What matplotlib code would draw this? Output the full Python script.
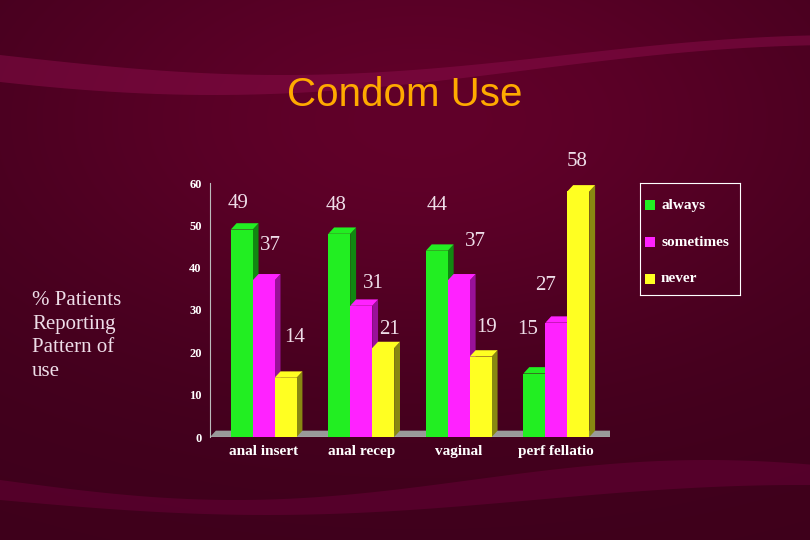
import numpy as np
import matplotlib.pyplot as plt
from matplotlib.patches import Polygon, Rectangle

categories = ["anal insert", "anal recep", "vaginal", "perf fellatio"]
always = [49, 48, 44, 15]
sometimes = [37, 31, 37, 27]
never = [14, 21, 19, 58]
series_names = ["always", "sometimes", "never"]
colors = ["#22ee22", "#ff22ff", "#ffff22"]
sides = ["#118811", "#991199", "#888811"]

W, H = 810, 540
fig = plt.figure(figsize=(8.1, 5.4), dpi=100)
fig.patch.set_facecolor("#3a0020")

# background with a few soft swirls
bg = fig.add_axes([0, 0, 1, 1], zorder=-10)
bg.set_xlim(0, W)
bg.set_ylim(H, 0)
bg.axis("off")
yy, xx = np.mgrid[0:H, 0:W]
grad = 0.35 + 0.25 * np.exp(-((xx - 420) ** 2 / 2e5 + (yy - 120) ** 2 / 6e4))
img = np.zeros((H, W, 3))
img[..., 0] = 0.55 * grad + 0.05
img[..., 1] = 0.0
img[..., 2] = 0.22 * grad + 0.03
bg.imshow(img, extent=(0, W, H, 0), aspect="auto")
t = np.linspace(0, W, 200)
bg.fill_between(t, 55 + 20 * np.sin(t / 180), 70 + 25 * np.sin(t / 200 + 0.5), color="#8a0d4a", alpha=0.5, lw=0)
bg.fill_between(t, 480 + 20 * np.sin(t / 150), 500 + 15 * np.sin(t / 170), color="#6a0038", alpha=0.5, lw=0)

fig.text(405 / W, 1 - 95 / H, "Condom Use", color="#ffaa00", fontsize=29,
         ha="center", va="center", family="Liberation Sans")
fig.text(32 / W, 1 - 336 / H, "% Patients\nReporting\nPattern of\nuse", color="#eedde8",
         fontsize=15, ha="left", va="center", family="Liberation Serif", linespacing=1.35)

ax = fig.add_axes([210 / W, (H - 437) / H, 400 / W, 254 / H])
ax.set_facecolor("none")
ax.set_xlim(-0.55, 3.55)
ax.set_ylim(0, 60)
ax.set_yticks(range(0, 61, 10))
ax.set_xticks(range(len(categories)))
ax.set_xticklabels(categories)
for lab in ax.get_xticklabels() + ax.get_yticklabels():
    lab.set_color("white")
    lab.set_family("Liberation Serif")
    lab.set_fontweight("bold")
for lab in ax.get_xticklabels():
    lab.set_fontsize(11)
for lab in ax.get_yticklabels():
    lab.set_fontsize(9)
ax.tick_params(length=0, pad=6)
for s in ["top", "right", "bottom"]:
    ax.spines[s].set_visible(False)
ax.spines["left"].set_color("#bbbbbb")

bw = 0.225
dx, dy = 0.06, 1.5
floor = Polygon([(-0.55, 0), (3.55, 0), (3.55 + dx, dy), (-0.55 + dx, dy)],
                closed=True, fc="#999999", ec="none", zorder=1)
ax.add_patch(floor)
ax.plot([-0.55, 3.55], [0, 0], color="#bbbbbb", lw=1, zorder=1)
for k, vals in enumerate([always, sometimes, never]):
    for i, v in enumerate(vals):
        x0 = i + (k - 1) * bw - bw / 2
        ax.add_patch(Polygon([(x0 + bw, 0), (x0 + bw + dx, dy), (x0 + bw + dx, v + dy), (x0 + bw, v)],
                             closed=True, fc=sides[k], ec="none", zorder=2))
        ax.add_patch(Polygon([(x0, v), (x0 + dx, v + dy), (x0 + bw + dx, v + dy), (x0 + bw, v)],
                             closed=True, fc=colors[k], ec="none", zorder=2))
    ax.bar([i + (k - 1) * bw for i in range(len(vals))], vals, width=bw,
           color=colors[k], zorder=3)

# value labels (figure pixel positions as in the original slide)
label_pos = [(238, 203), (336, 205), (437, 205), (577, 162), (270, 246), (475, 241),
             (373, 284), (546, 285), (295, 338), (390, 330), (487, 328), (528, 330)]
label_vals = [always[0], always[1], always[2], never[3], sometimes[0], sometimes[2],
              sometimes[1], sometimes[3], never[0], never[1], never[2], always[3]]
for (px, py), v in zip(label_pos, label_vals):
    fig.text(px / W, 1 - py / H, str(v), color="#eedde8", fontsize=15,
             ha="center", va="center", family="Liberation Serif")

# legend
lg = fig.add_axes([640 / W, 1 - 295 / H, 100 / W, 112 / H])
lg.set_xlim(0, 100)
lg.set_ylim(112, 0)
lg.set_facecolor("none")
lg.set_xticks([])
lg.set_yticks([])
for s in lg.spines.values():
    s.set_color("white")
for k, name in enumerate(series_names):
    y = 22 + k * 37
    lg.add_patch(Rectangle((5, y - 5), 10, 10, fc=colors[k], ec="none"))
    lg.text(21, y, name, color="white", fontsize=11, fontweight="bold",
            family="Liberation Serif", va="center")

fig.savefig("out.png", dpi=100, facecolor=fig.get_facecolor())
